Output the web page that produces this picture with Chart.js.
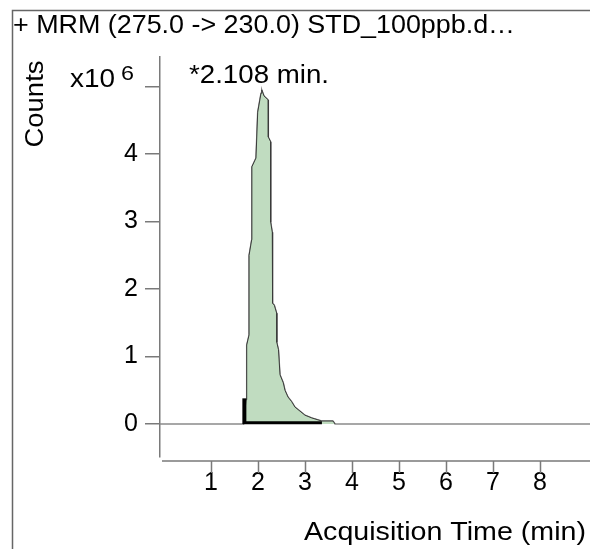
<!DOCTYPE html>
<html>
<head>
<meta charset="utf-8">
<script src="https://cdn.jsdelivr.net/npm/chart.js@4"></script>
<style>
html,body{margin:0;padding:0;background:#fff;}
#wrap{width:590px;height:549px;position:relative;}
</style>
</head>
<body>
<div id="wrap"><canvas id="c" width="590" height="549"></canvas></div>
<script>
// ---- data (counts in units of 10^6) ----
const titleText = "+ MRM (275.0 -> 230.0) STD_100ppb.d\u2026";
const peakLabel = "*2.108 min.";
const yAxisTitle = "Counts";
const xAxisTitle = "Acquisition Time (min)";
const yExponent = "6";
const times  = [-0.1, 1.68, 1.70, 1.745, 1.76, 1.81, 1.81, 1.866, 1.87, 1.957, 1.994, 2.064, 2.08, 2.128, 2.219, 2.22, 2.27, 2.27, 2.27, 2.304, 2.31, 2.347, 2.398, 2.40, 2.436, 2.468, 2.538, 2.574, 2.638, 2.717, 2.787, 2.894, 3.0, 3.143, 3.355, 3.596, 3.64, 9.2];
const counts = [0, 0, 0.0, 0.36, 1.17, 1.32, 2.50, 2.73, 3.81, 3.94, 4.62, 4.90, 4.95, 4.86, 4.80, 4.25, 4.18, 3.32, 2.99, 2.84, 1.79, 1.76, 1.64, 1.21, 1.10, 0.73, 0.61, 0.50, 0.40, 0.33, 0.25, 0.19, 0.13, 0.09, 0.044, 0.044, 0, 0];
const peakStartIdx = 1, peakEndIdx = 36;
const integStart = 1.71, integEnd = 3.36, integLevel = 0.02, integMarkHeight = 0.38;
const xTicks = [1, 2, 3, 4, 5, 6, 7, 8];
const yTicks = [0, 1, 2, 3, 4, 5];
const xMin = -0.085, xMax = 9.064, yMin = -0.489, yMax = 5.437;

const FONT = "'Liberation Sans', Arial, sans-serif";
const AXIS = '#7a7a7a';

const trace = times.map((t, i) => ({x: t, y: counts[i]}));
const peak = trace.slice(peakStartIdx, peakEndIdx + 1);

function stretchText(ctx, text, x, y, targetW, align) {
  const w = ctx.measureText(text).width;
  const sx = targetW / w;
  ctx.save();
  ctx.translate(x, y);
  ctx.scale(sx, 1);
  ctx.textAlign = 'left';
  let ox = 0;
  if (align === 'right') ox = -w;
  else if (align === 'center') ox = -w / 2;
  ctx.fillText(text, ox, 0);
  ctx.restore();
}

const deco = {
  id: 'deco',
  afterDraw(chart) {
    const ctx = chart.ctx;
    const xs = chart.scales.x;
    ctx.save();
    // outer frame
    ctx.strokeStyle = '#666';
    ctx.lineWidth = 1.5;
    ctx.beginPath();
    ctx.moveTo(12.5, 549); ctx.lineTo(12.5, 10.5); ctx.lineTo(590, 10.5);
    ctx.stroke();
    // x axis line and ticks (drawn slightly below plot area like the original)
    const ay = chart.chartArea.bottom + 4;
    ctx.strokeStyle = AXIS;
    ctx.lineWidth = 1.5;
    ctx.beginPath();
    ctx.moveTo(chart.chartArea.left + 2, ay); ctx.lineTo(590, ay);
    xs.ticks.forEach(t => {
      const px = Math.round(xs.getPixelForValue(t.value)) + 0.5;
      ctx.moveTo(px, ay); ctx.lineTo(px, ay + 12);
    });
    ctx.stroke();
    // texts
    ctx.fillStyle = '#000';
    ctx.textBaseline = 'alphabetic';
    ctx.font = '26px ' + FONT;
    stretchText(ctx, titleText, 13, 33, 502, 'left');
    stretchText(ctx, peakLabel, 189, 83, 140, 'left');
    stretchText(ctx, 'x10', 70, 87, 45, 'left');
    stretchText(ctx, xAxisTitle, 586, 540, 282, 'right');
    ctx.font = '21px ' + FONT;
    stretchText(ctx, yExponent, 121, 80, 13, 'left');
    ctx.font = '26px ' + FONT;
    ctx.save();
    ctx.translate(43, 104);
    ctx.rotate(-Math.PI / 2);
    stretchText(ctx, yAxisTitle, 0, 0, 87, 'center');
    ctx.restore();
    ctx.restore();
  }
};

new Chart(document.getElementById('c'), {
  type: 'scatter',
  data: {
    datasets: [
      {
        label: 'peak',
        data: peak,
        showLine: true,
        borderColor: '#3a3a3a',
        borderWidth: 1,
        backgroundColor: 'rgba(192,220,192,1)',
        fill: 'origin',
        pointRadius: 0,
        tension: 0,
        order: 3
      },
      {
        label: 'trace',
        data: trace,
        showLine: true,
        borderColor: '#8a8a8a',
        borderWidth: 1.5,
        fill: false,
        pointRadius: 0,
        tension: 0,
        order: 4
      },
      {
        label: 'baseline',
        data: [{x: integStart, y: integLevel}, {x: integEnd, y: integLevel}],
        showLine: true,
        borderColor: '#000',
        borderWidth: 3,
        pointRadius: 0,
        order: 1
      },
      {
        label: 'startmark',
        data: [{x: integStart, y: 0}, {x: integStart, y: integMarkHeight}],
        showLine: true,
        borderColor: '#000',
        borderWidth: 4,
        pointRadius: 0,
        order: 1
      }
    ]
  },
  options: {
    responsive: false,
    animation: false,
    layout: {padding: {top: 57, left: 0, right: 0, bottom: 0}},
    plugins: {legend: {display: false}, tooltip: {enabled: false}},
    scales: {
      x: {
        type: 'linear',
        min: xMin, max: xMax,
        afterBuildTicks: s => { s.ticks = xTicks.map(v => ({value: v})); },
        afterFit: s => { s.height = 92; },
        grid: {display: false},
        border: {display: false},
        ticks: {
          color: '#000',
          font: {family: FONT, size: 25},
          padding: 3,
          maxRotation: 0,
          autoSkip: false,
          callback: v => String(v)
        }
      },
      y: {
        type: 'linear',
        min: yMin, max: yMax,
        afterBuildTicks: s => { s.ticks = yTicks.map(v => ({value: v})); },
        afterFit: s => { s.width = 160; },
        grid: {display: true, drawOnChartArea: false, drawTicks: true, tickLength: 15, color: AXIS, lineWidth: 1.5},
        border: {display: true, color: AXIS, width: 1.5},
        ticks: {
          color: '#000',
          font: {family: FONT, size: 25},
          padding: 7,
          autoSkip: false,
          callback: v => (v === 5 ? '' : String(v))
        }
      }
    }
  },
  plugins: [deco]
});
</script>
</body>
</html>
